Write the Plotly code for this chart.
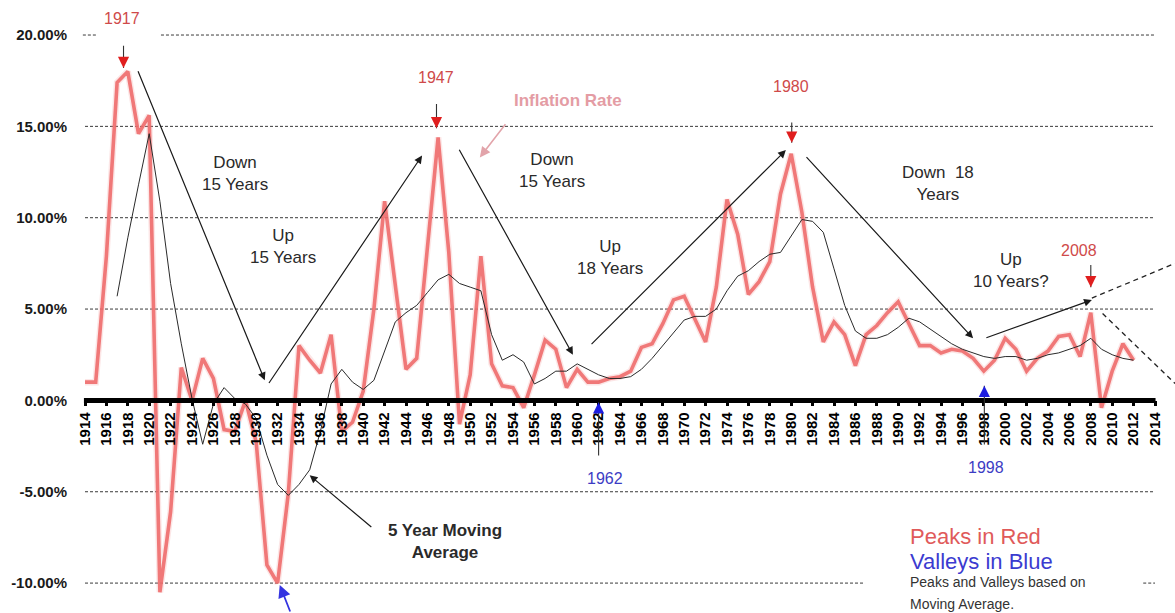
import plotly.graph_objects as go

# Annual inflation rate (%), 1914-2012
years = list(range(1914, 2013))
inflation_rate = [
    1.0, 1.0, 7.9, 17.4, 18.0, 14.6, 15.6, -10.5, -6.1, 1.8,      # 1914-1923
    0.0, 2.3, 1.2, -1.6, -1.7, 0.0, -2.3, -9.0, -10.0, -5.1,      # 1924-1933
    3.0, 2.2, 1.5, 3.6, -1.7, -1.2, 0.5, 5.0, 10.9, 6.1,          # 1934-1943
    1.7, 2.3, 8.3, 14.4, 8.1, -1.3, 1.4, 7.9, 2.0, 0.8,           # 1944-1953
    0.7, -0.4, 1.4, 3.3, 2.8, 0.7, 1.7, 1.0, 1.0, 1.2,            # 1954-1963
    1.3, 1.6, 2.9, 3.1, 4.2, 5.5, 5.7, 4.4, 3.2, 6.2,             # 1964-1973
    11.0, 9.1, 5.8, 6.5, 7.6, 11.3, 13.5, 10.3, 6.2, 3.2,         # 1974-1983
    4.3, 3.6, 1.9, 3.6, 4.1, 4.8, 5.4, 4.2, 3.0, 3.0,             # 1984-1993
    2.6, 2.8, 2.7, 2.3, 1.6, 2.2, 3.4, 2.8, 1.6, 2.3,             # 1994-2003
    2.7, 3.5, 3.6, 2.4, 4.8, -0.4, 1.6, 3.1, 2.2,                 # 2004-2012
]

# 5 year moving average (%), 1917-2012
ma_years = list(range(1917, 2013))
moving_average = [
    5.7, 8.9, 11.8, 14.6, 10.9, 6.4, 3.1,                         # 1917-1923
    0.1, -2.4, -0.2, 0.7, 0.1, -0.2, -1.0, -3.0, -4.6, -5.2,      # 1924-1933
    -4.6, -3.8, -1.7, 0.9, 1.7, 1.0, 0.6, 1.1, 2.7, 4.3,          # 1934-1943
    4.8, 5.2, 5.9, 6.6, 6.9, 6.4, 6.2, 6.0, 3.6, 2.2,             # 1944-1953
    2.5, 2.1, 0.9, 1.2, 1.6, 1.6, 2.0, 1.7, 1.4, 1.2,             # 1954-1963
    1.2, 1.3, 1.7, 2.3, 3.0, 3.7, 4.4, 4.6, 4.6, 5.0,             # 1964-1973
    6.0, 6.8, 7.1, 7.6, 8.0, 8.1, 9.0, 9.9, 9.8, 9.2,             # 1974-1983
    7.2, 5.2, 3.8, 3.4, 3.4, 3.6, 4.0, 4.5, 4.3, 3.9,             # 1984-1993
    3.5, 3.1, 2.8, 2.6, 2.4, 2.3, 2.4, 2.4, 2.2, 2.3,             # 1994-2003
    2.5, 2.6, 2.8, 3.0, 3.4, 2.8, 2.5, 2.3, 2.2,                  # 2004-2012
]

tick_years = list(range(1914, 2015, 2))
y_levels = [-10, -5, 0, 5, 10, 15, 20]
y_labels = ["-10.00%", "-5.00%", "0.00%", "5.00%", "10.00%", "15.00%", "20.00%"]

FONT = "Liberation Sans, Arial, sans-serif"
Y_MIN, Y_MAX = -11.09, 21.37
X_MIN, X_MAX = 1913.533, 2015.869
zero_pos = (0 - Y_MIN) / (Y_MAX - Y_MIN)

fig = go.Figure()

# soft halo + inflation line
fig.add_trace(go.Scatter(x=years, y=inflation_rate, mode="lines",
                         line=dict(color="rgba(240,140,140,0.22)", width=6.5),
                         hoverinfo="skip", showlegend=False))
fig.add_trace(go.Scatter(x=years, y=inflation_rate, mode="lines",
                         line=dict(color="rgba(238,108,108,0.90)", width=3.6),
                         name="Inflation Rate", showlegend=False))
fig.add_trace(go.Scatter(x=ma_years, y=moving_average, mode="lines",
                         line=dict(color="#2a2a2a", width=1),
                         name="5 Year Moving Average", showlegend=False))

shapes = []
grid_segments = {
    20: [(1913.8, 1915.2), (1921.1, 2014.0)],
    15: [(1914.0, 2014.0)],
    10: [(1914.0, 2014.0)],
    5: [(1914.0, 2014.0)],
    -5: [(1914.0, 2014.0)],
    -10: [(1914.0, 1986.9), (2012.9, 2014.0)],
}
for lvl, segs in grid_segments.items():
    for x0, x1 in segs:
        shapes.append(dict(type="line", xref="x", yref="y", x0=x0, x1=x1, y0=lvl, y1=lvl,
                           line=dict(color="#3a3a3a", width=1, dash="3px,2px"), layer="below"))
# heavy zero axis
shapes.append(dict(type="line", xref="x", yref="y", x0=1913.9, x1=2014.05, y0=0, y1=0,
                   line=dict(color="#000000", width=5), layer="above"))
# projection lines after 2008
shapes.append(dict(type="line", xref="x", yref="y", x0=2008.1, y0=5.6, x1=2015.87, y1=7.5,
                   line=dict(color="#222222", width=1.3, dash="5px,4px")))
shapes.append(dict(type="line", xref="x", yref="y", x0=2009.1, y0=4.76, x1=2015.87, y1=0.93,
                   line=dict(color="#222222", width=1.3, dash="5px,4px")))

ann = []


def arrow(x0, y0, x1, y1, color="#1a1a1a", width=1.2, head=2, size=1.3):
    ann.append(dict(x=x1, y=y1, ax=x0, ay=y0, xref="x", yref="y", axref="x", ayref="y",
                    text="", showarrow=True, arrowhead=head, arrowsize=size,
                    arrowwidth=width, arrowcolor=color, standoff=0, startstandoff=0))


def label(x, y, text, size=17, color="#2a2a2a", bold=False, xanchor="center", yshift=0):
    ann.append(dict(x=x, y=y, xref="x", yref="y", text=text, showarrow=False,
                    xanchor=xanchor, yanchor="middle", yshift=yshift,
                    font=dict(family=FONT, size=size, color=color,
                              weight="bold" if bold else "normal")))


def marker_arrow(x, y_tail, y_head, head_color):
    # dark shaft with a coloured head
    arrow(x, y_tail, x, y_head, color="#333333", width=1.1, head=0)
    step = 0.3 if y_head < y_tail else -0.3
    arrow(x, y_head + step, x, y_head, color=head_color, width=1.6, head=2, size=1.4)


# trend arrows
arrow(1918.9, 18.1, 1930.8, 1.1)
arrow(1931.1, 0.87, 1945.5, 13.4)
arrow(1948.9, 13.8, 1959.6, 2.5)
arrow(1961.2, 3.0, 1979.5, 13.7)
arrow(1981.3, 13.4, 1997.0, 3.4)
arrow(1998.1, 3.4, 2008.1, 5.5)
arrow(1940.9, -7.0, 1935.0, -4.1)
arrow(1953.4, 15.2, 1950.9, 13.3, color="#e2a4aa", width=1.6)

# trend labels
label(1928.0, 12.4, "Down<br>15 Years")
label(1932.5, 8.4, "Up<br>15 Years")
label(1957.6, 12.6, "Down<br>15 Years")
label(1963.1, 7.8, "Up<br>18 Years")
label(1993.7, 11.9, "Down  18<br>Years")
label(2000.5, 7.1, "Up<br>10 Years?")
label(1947.6, -7.7, "5 Year Moving<br>Average", bold=True)
label(1959.1, 16.4, "Inflation Rate", size=17, color="#e49ca4", bold=True)

# peaks (red) and valleys (blue)
marker_arrow(1917.6, 19.5, 18.2, "#e01e1e")
marker_arrow(1946.85, 16.3, 14.9, "#e01e1e")
marker_arrow(1980.05, 15.3, 14.1, "#e01e1e")
marker_arrow(2008.0, 7.5, 6.2, "#e01e1e")
label(1917.5, 20.9, "1917", size=16, color="#cf4a4a")
label(1946.8, 17.7, "1947", size=16, color="#cf4a4a")
label(1980.0, 17.2, "1980", size=16, color="#cf4a4a")
label(2006.9, 8.2, "2008", size=16, color="#cf4a4a")

marker_arrow(1962.0, -3.1, -0.1, "#1e1ee0")
marker_arrow(1998.05, -2.5, 0.8, "#1e1ee0")
label(1962.6, -4.3, "1962", size=16, color="#3c3cc4")
label(1998.2, -3.7, "1998", size=16, color="#3c3cc4")
ann.append(dict(x=1932.2, y=-10.1, ax=11, ay=32, xref="x", yref="y", text="",
                showarrow=True, arrowhead=2, arrowsize=1.4, arrowwidth=1.8,
                arrowcolor="#3434e0", standoff=0))

# key text
label(1990.9, -7.45, "Peaks in Red", size=22, color="#e05a5a", xanchor="left")
label(1990.9, -8.8, "Valleys in Blue", size=22, color="#3b3bd0", xanchor="left")
label(1990.9, -9.95, "Peaks and Valleys based on", size=14, color="#333333", xanchor="left")
label(1990.9, -9.95, "Moving Average.", size=14, color="#333333", xanchor="left", yshift=-22)

fig.update_layout(
    width=1175, height=613,
    margin=dict(l=80, r=0, t=10, b=10),
    paper_bgcolor="white", plot_bgcolor="white",
    shapes=shapes, annotations=ann, showlegend=False,
    font=dict(family=FONT),
    xaxis=dict(range=[X_MIN, X_MAX], anchor="free", position=zero_pos,
               tickvals=tick_years, ticktext=[str(y) for y in tick_years],
               tickangle=-90, ticks="outside", ticklen=5, tickwidth=3, tickcolor="#000",
               tickfont=dict(family=FONT, size=15, color="#000", weight="bold"),
               showgrid=False, zeroline=False, showline=False, fixedrange=True),
    yaxis=dict(range=[Y_MIN, Y_MAX], domain=[0, 1],
               tickvals=y_levels, ticktext=y_labels, ticks="", ticklabelstandoff=12,
               tickfont=dict(family=FONT, size=15, color="#1a1a1a", weight="bold"),
               showgrid=False, zeroline=False, showline=False, fixedrange=True),
)

fig.write_html("out.html")
